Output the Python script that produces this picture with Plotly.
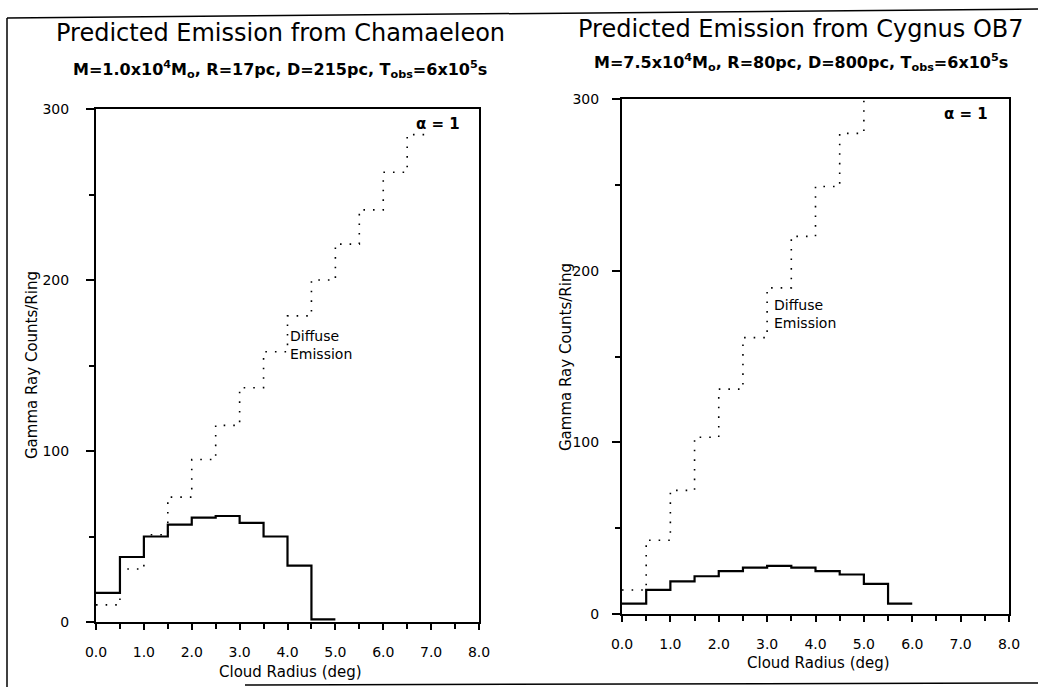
import plotly.graph_objects as go

# ---------------- data ----------------
radius_edges = [0.0, 0.5, 1.0, 1.5, 2.0, 2.5, 3.0, 3.5, 4.0, 4.5, 5.0,
                5.5, 6.0, 6.5, 7.0, 7.5, 8.0]

# Chamaeleon (left panel), counts per ring, one value per 0.5 deg bin
cham_cloud = [17, 38, 50, 57, 61, 62, 58, 50, 33, 1.5]
cham_diffuse = [10, 31, 51, 73, 95, 115, 137, 158, 179, 200, 221, 241, 263, 285]

# Cygnus OB7 (right panel)
cyg_cloud = [6, 14, 19, 22, 25, 27, 28, 27, 25, 23, 17.5, 6]
cyg_diffuse = [14, 43, 72, 103, 131, 161, 190, 220, 249, 280, 310]

titles = ["Predicted Emission from Chamaeleon", "Predicted Emission from Cygnus OB7"]
subtitles = [
    "M=1.0x10<sup>4</sup>M<sub>o</sub>, R=17pc, D=215pc, T<sub>obs</sub>=6x10<sup>5</sup>s",
    "M=7.5x10<sup>4</sup>M<sub>o</sub>, R=80pc, D=800pc, T<sub>obs</sub>=6x10<sup>5</sup>s",
]
x_title = "Cloud Radius (deg)"
y_title = "Gamma Ray Counts/Ring"
alpha_label = "α = 1"
diffuse_label = "Diffuse<br>Emission"

FONT = "DejaVu Sans"
W, H = 1038, 687


def step(vals):
    n = len(vals)
    return radius_edges[:n + 1], list(vals) + [vals[-1]]


fig = go.Figure()

series = [
    (cham_cloud, "x", "y", "solid"),
    (cham_diffuse, "x", "y", "dot"),
    (cyg_cloud, "x2", "y2", "solid"),
    (cyg_diffuse, "x2", "y2", "dot"),
]
for vals, xa, ya, kind in series:
    xs, ys = step(vals)
    if kind == "solid":
        line = dict(color="black", width=2.2, shape="hv")
    else:
        line = dict(color="black", width=1.6, shape="hv", dash="1.6px,8px")
    fig.add_trace(go.Scatter(x=xs, y=ys, xaxis=xa, yaxis=ya, mode="lines",
                             line=line, showlegend=False, hoverinfo="skip"))


def px_x(p):
    return p / W


def px_y(p):
    return 1 - p / H


tickfont = dict(family=FONT, size=14, color="black")


def xaxis(domain, anchor):
    return dict(domain=domain, anchor=anchor, range=[0, 8], automargin=False,
                tickmode="linear", tick0=0, dtick=1,
                tickformat=".1f", ticks="outside", ticklen=6, tickwidth=1.5,
                tickcolor="black",
                minor=dict(tickmode="linear", tick0=0, dtick=0.5, ticks="outside",
                           ticklen=5, tickwidth=1.5, tickcolor="black"),
                showline=True, mirror=True, linewidth=2, linecolor="black",
                showgrid=False, zeroline=False, tickfont=tickfont,
                ticklabelstandoff=10, fixedrange=True)


def yaxis(domain, anchor, standoff):
    return dict(domain=domain, anchor=anchor, range=[0, 300], automargin=False,
                tickmode="linear", tick0=0, dtick=100,
                ticks="outside", ticklen=8, tickwidth=1.5, tickcolor="black",
                minor=dict(tickmode="linear", tick0=0, dtick=50, ticks="outside",
                           ticklen=5, tickwidth=1.5, tickcolor="black"),
                showline=True, mirror=True, linewidth=2, linecolor="black",
                showgrid=False, zeroline=False, tickfont=tickfont,
                ticklabelstandoff=standoff, fixedrange=True)


fig.update_layout(
    width=W, height=H, autosize=False,
    margin=dict(l=0, r=0, t=0, b=0, pad=0),
    paper_bgcolor="white", plot_bgcolor="white",
    font=dict(family=FONT, color="black"),
    xaxis=xaxis([px_x(96), px_x(479)], "y"),
    yaxis=yaxis([px_y(622), px_y(109)], "x", 14),
    xaxis2=xaxis([px_x(622), px_x(1009)], "y2"),
    yaxis2=yaxis([px_y(614), px_y(99)], "x2", 10),
)

ann = []
# titles & subtitles
for t, s, cx, ty, sy in [(titles[0], subtitles[0], 280, 33, 70),
                         (titles[1], subtitles[1], 801, 29, 62)]:
    ann.append(dict(text=t, x=px_x(cx), y=px_y(ty), xref="paper", yref="paper",
                    showarrow=False, xanchor="center", yanchor="middle",
                    font=dict(family=FONT, size=24, color="black")))
    ann.append(dict(text=s, x=px_x(cx), y=px_y(sy), xref="paper", yref="paper",
                    showarrow=False, xanchor="center", yanchor="middle",
                    font=dict(family=FONT, size=16, color="black", weight="bold")))
# axis titles
for cx, cy in [(290, 672), (818, 663)]:
    ann.append(dict(text=x_title, x=px_x(cx), y=px_y(cy), xref="paper", yref="paper",
                    showarrow=False, xanchor="center", yanchor="middle",
                    font=dict(family=FONT, size=15, color="black")))
for cx, cy in [(32, 365), (566, 357)]:
    ann.append(dict(text=y_title, x=px_x(cx), y=px_y(cy), xref="paper", yref="paper",
                    showarrow=False, xanchor="center", yanchor="middle", textangle=-90,
                    font=dict(family=FONT, size=15, color="black")))
# in-plot labels
ann.append(dict(text=alpha_label, x=7.65, y=291, xref="x", yref="y", showarrow=False,
                xanchor="right", yanchor="middle",
                font=dict(family=FONT, size=15, color="black", weight="bold")))
ann.append(dict(text=alpha_label, x=7.6, y=291, xref="x2", yref="y2", showarrow=False,
                xanchor="right", yanchor="middle",
                font=dict(family=FONT, size=15, color="black", weight="bold")))
ann.append(dict(text=diffuse_label, x=4.0, y=162, xref="x", yref="y", showarrow=False,
                xanchor="left", yanchor="middle", align="left",
                font=dict(family=FONT, size=14, color="black")))
ann.append(dict(text=diffuse_label, x=3.1, y=175, xref="x2", yref="y2", showarrow=False,
                xanchor="left", yanchor="middle", align="left",
                font=dict(family=FONT, size=14, color="black")))
fig.update_layout(annotations=ann)

# scanned page border lines
shapes = [
    dict(type="line", xref="paper", yref="paper", x0=px_x(7), y0=px_y(18),
         x1=px_x(7), y1=px_y(687), line=dict(color="black", width=1.5)),
    dict(type="line", xref="paper", yref="paper", x0=px_x(7), y0=px_y(18),
         x1=px_x(1038), y1=px_y(9), line=dict(color="black", width=1.5)),
    dict(type="line", xref="paper", yref="paper", x0=px_x(245), y0=px_y(685),
         x1=px_x(1038), y1=px_y(683), line=dict(color="black", width=1.5)),
]
fig.update_layout(shapes=shapes)

fig.write_html("out.html")
